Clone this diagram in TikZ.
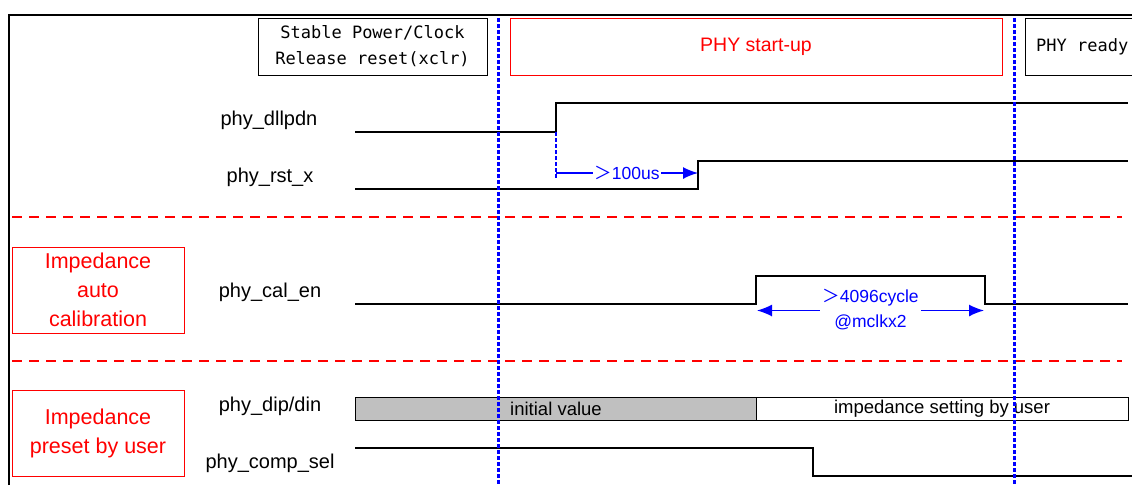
\documentclass[tikz,border=0pt]{standalone}
\usepackage{fontspec}
\setmainfont{Liberation Sans}
\newfontfamily\monofnt{DejaVu Sans Mono}
\newfontfamily\cjkfnt{Noto Sans CJK JP}
\usetikzlibrary{arrows.meta}
\definecolor{busgray}{RGB}{192,192,192}
\newcommand\labfnt{\fontsize{20}{23}\selectfont}
\newcommand\boxfnt{\fontsize{21.5}{29}\selectfont}
\newcommand\busfnt{\fontsize{18.5}{21}\selectfont}
\newcommand\annfnt{\fontsize{17.5}{24}\selectfont}
\newcommand\gtsym{{\cjkfnt ＞}}
\tikzset{
  frameline/.style={line width=2pt, black},
  sig/.style={line width=1.3pt, black},
  phasebox/.style={draw, line width=1pt, minimum height=57pt, inner sep=0pt},
  groupbox/.style={draw=red, line width=1pt, text=red, minimum width=172pt, minimum height=86pt, align=center, inner sep=0pt, font=\boxfnt},
  siglabel/.style={font=\labfnt, inner sep=0pt},
  vmark/.style={blue, line width=3pt, dash pattern=on 3.5pt off 2.5pt},
  sep/.style={red, line width=1.6pt, dash pattern=on 10pt off 7pt},
  meas/.style={blue, line width=1.4pt, -{Latex[length=15pt,width=12pt]}},
  meastext/.style={text=blue, font=\annfnt, fill=white, inner sep=1pt, align=center}
}
\begin{document}
\begin{tikzpicture}[x=1pt,y=-1pt]
\useasboundingbox (0,0) rectangle (1132,485);
% frame
\draw[frameline] (9,485) -- (9,14.5) -- (1140,14.5);
% phase boxes
\node[phasebox, minimum width=229pt, align=center, font=\monofnt\fontsize{17}{26}\selectfont] (stable) at (372.5,46.5) {Stable Power/Clock\\Release reset(xclr)};
\node[phasebox, draw=red, minimum width=492pt, text=red, font=\fontsize{19.5}{22}\selectfont] (startup) at (756,46.5) {PHY start-up};
\draw[line width=1pt] (1140,18) -- (1025,18) -- (1025,75) -- (1140,75);
\node[anchor=west, font=\monofnt\fontsize{17}{20}\selectfont, inner sep=0pt] (ready) at (1036,46.5) {PHY ready};
% group boxes
\node[groupbox] (auto) at (98,290) {Impedance\\auto\\calibration};
\node[groupbox] (preset) at (98,433) {Impedance\\preset by user};
% signal labels
\node[siglabel] (dll) at (269,120) {phy\_dllpdn};
\node[siglabel] (rst) at (270,177) {phy\_rst\_x};
\node[siglabel] (cal) at (270,292) {phy\_cal\_en};
\node[siglabel] (dip) at (270,406) {phy\_dip/din};
\node[siglabel] (comp) at (270,463) {phy\_comp\_sel};
% separators
\draw[sep] (12,217) -- (1122,217);
\draw[sep] (12,361) -- (1122,361);
% waveforms
\draw[sig] (355,132) -- (556,132) -- (556,103) -- (1128,103);
\draw[sig] (355,189) -- (698,189) -- (698,161) -- (1128,161);
\draw[sig] (355,304) -- (756,304) -- (756,276) -- (985,276) -- (985,304) -- (1128,304);
\draw[sig] (355,448) -- (813,448) -- (813,476) -- (1140,476);
% bus
\draw[line width=1pt, fill=busgray] (355,397) rectangle (756,420);
\draw[line width=1pt, fill=white] (756,397) rectangle (1128,420);
\node[font=\busfnt, inner sep=0pt] (init) at (556,408.5) {initial value};
\node[font=\busfnt, inner sep=0pt] (user) at (942,408.5) {impedance setting by user};
% timing annotations
\coordinate (dllrise) at (556,132);
\coordinate (dllmark) at (556,179);
\coordinate (rstrise) at (698,173);
\draw[vmark, line width=2.4pt] (dllrise) -- (dllmark);
\draw[meas] (556,173) -- (rstrise);
\node[meastext] (t100) at (627,173) {\gtsym100us};
\coordinate (calrise) at (757,310.5);
\coordinate (calfall) at (984,310.5);
\node[inner sep=0pt, minimum width=101pt, minimum height=10pt] (t4096) at (870.5,310.5) {};
\draw[meas] (t4096.west) -- (calrise);
\draw[meas] (t4096.east) -- (calfall);
\node[text=blue, font=\annfnt, inner sep=0pt] (cycl) at (870.5,298) {\gtsym4096cycle};
\node[text=blue, font=\annfnt, inner sep=0pt] (mclk) at (870.5,322) {@mclkx2};
% phase markers
\draw[vmark] (498,18) -- (498,485);
\draw[vmark] (1014,18) -- (1014,485);
\end{tikzpicture}
\end{document}
